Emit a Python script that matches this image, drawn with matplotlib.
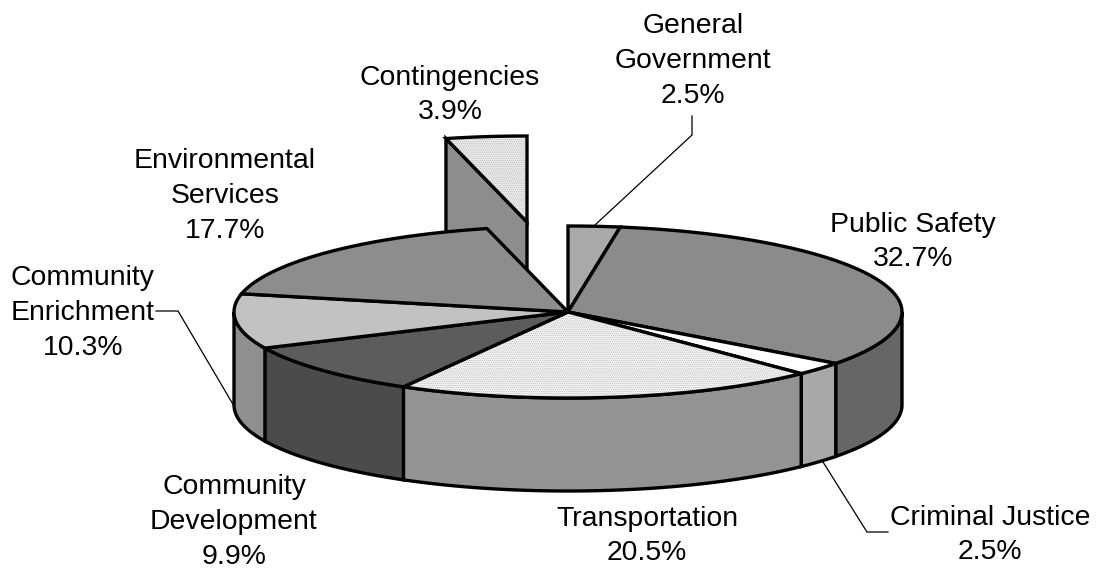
import numpy as np
import matplotlib
matplotlib.use('Agg')
import matplotlib.pyplot as plt

plt.rcParams['font.family'] = ['Liberation Sans', 'DejaVu Sans']
plt.rcParams['hatch.linewidth'] = 0.5

# clockwise from 12 o'clock
names = ['General Government', 'Public Safety', 'Criminal Justice', 'Transportation',
         'Community Development', 'Community Enrichment', 'Environmental Services', 'Contingencies']
shares = [2.5, 32.7, 2.5, 20.5, 9.9, 10.3, 17.7, 3.9]
top_grey = ['#a9a9a9', '#8b8b8b', '#ffffff', '#f4f4f4', '#5c5c5c', '#c2c2c2', '#8d8d8d', '#ececec']
side_grey = ['#a9a9a9', '#666666', '#a8a8a8', '#939393', '#4b4b4b', '#8f8f8f', '#8d8d8d', '#8d8d8d']
top_hatch = [None, None, None, '........', None, None, None, '........']
label_text = ['General\nGovernment\n2.5%', 'Public Safety\n32.7%', 'Criminal Justice\n2.5%',
              'Transportation\n20.5%', 'Community\nDevelopment\n9.9%', 'Community\nEnrichment\n10.3%',
              'Environmental\nServices\n17.7%', 'Contingencies\n3.9%']
label_x = [693, 913, 990, 647, 234, 83, 225, 450]
label_y = [61, 242, 535, 536, 522, 313, 196, 95]

# leader lines in pixels
leaders = [([595, 692, 692], [225, 135, 116]),
           ([156, 178, 234], [311, 311, 406]),
           ([823, 867, 888], [462, 532, 532])]

cx, cy = 568, 312
rx, ry = 334, 86
depth = 93
explode = (-41, -90)   # how far contingencies is pulled out


def rim(a0, a1, dx=0, dy=0):
    t = np.radians(np.linspace(a0, a1, 120))
    return cx + dx + rx * np.sin(t), cy + dy - ry * np.cos(t)


def top_face(xs, ys, i):
    if top_hatch[i]:
        ax.fill(xs, ys, fc=top_grey[i], ec='#b5b5b5', lw=0, hatch=top_hatch[i])
        ax.fill(xs, ys, fc='none', ec='k', lw=lw, joinstyle='miter')
    else:
        ax.fill(xs, ys, fc=top_grey[i], ec='k', lw=lw, joinstyle='miter')


fig = plt.figure(figsize=(10.97, 5.71), dpi=100)
ax = fig.add_axes([0, 0, 1, 1])
ax.set_xlim(0, 1097)
ax.set_ylim(571, 0)
ax.axis('off')

edges = np.cumsum([0] + shares) * 3.6
lw = 2.4

# pulled out slice goes first, the rest of the pie covers it
a0, a1 = edges[-2], edges[-1]
dx, dy = explode
x, y = rim(a0, a1, dx, dy)
ax.fill([x[0], cx + dx, cx + dx, x[0]], [y[0], cy + dy, cy + dy + depth, y[0] + depth],
        fc=side_grey[-1], ec='k', lw=lw, joinstyle='miter')
top_face(np.r_[cx + dx, x], np.r_[cy + dy, y], len(shares) - 1)

# outer wall, front half only
for i in range(len(shares) - 1):
    a0, a1 = max(edges[i], 90), min(edges[i + 1], 270)
    if a1 <= a0:
        continue
    x, y = rim(a0, a1)
    ax.fill(np.r_[x, x[::-1]], np.r_[y, y[::-1] + depth], fc=side_grey[i], ec='k', lw=lw, joinstyle='miter')

for i in range(len(shares) - 1):
    x, y = rim(edges[i], edges[i + 1])
    top_face(np.r_[cx, x], np.r_[cy, y], i)

for lx, ly in leaders:
    ax.plot(lx, ly, color='k', lw=0.9, solid_joinstyle='miter')

for i in range(len(names)):
    ax.text(label_x[i], label_y[i], label_text[i], ha='center', va='center', fontsize=20.4,
            linespacing=1.44, color='k')

fig.savefig('out.png', dpi=100)
